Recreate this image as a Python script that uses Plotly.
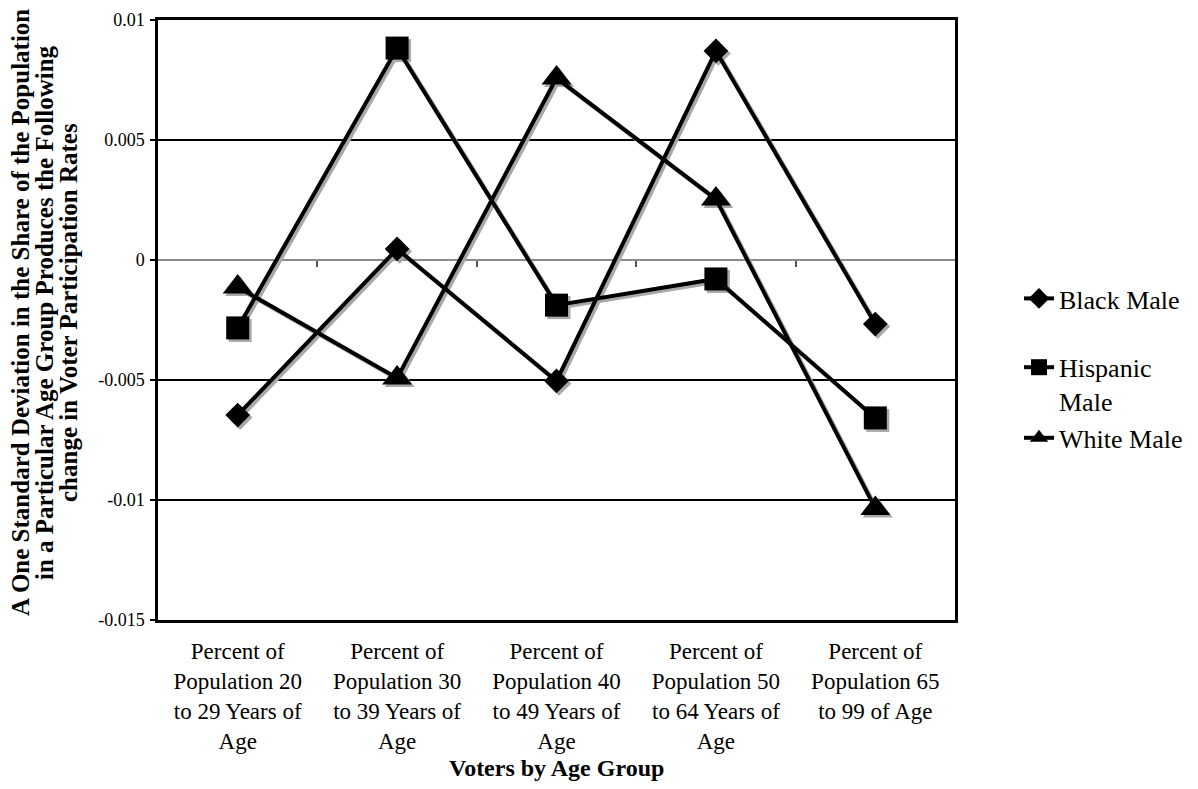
import plotly.graph_objects as go

categories = [
    "Percent of<br>Population 20<br>to 29 Years of<br>Age",
    "Percent of<br>Population 30<br>to 39 Years of<br>Age",
    "Percent of<br>Population 40<br>to 49 Years of<br>Age",
    "Percent of<br>Population 50<br>to 64 Years of<br>Age",
    "Percent of<br>Population 65<br>to 99 of Age",
]
black_male = [-0.00646, 0.00046, -0.00504, 0.00871, -0.00267]
hispanic_male = [-0.00283, 0.00883, -0.00188, -0.00079, -0.00658]
white_male = [-0.00113, -0.00492, 0.00758, 0.00254, -0.01035]

series_names = ["Black Male", "Hispanic<br>Male", "White Male"]
series_values = [black_male, hispanic_male, white_male]
symbols = ["diamond", "square", "triangle-up"]
sizes = [19, 23, 26]
legend_groups = ["g0", "g1", "g1"]

ytick_vals = [-0.015, -0.01, -0.005, 0, 0.005, 0.01]
ytick_text = ["-0.015", "-0.01", "-0.005", "0", "0.005", "0.01"]

y_title_lines = [
    "A One Standard Deviation in the Share of the Population",
    "in a Particular Age Group Produces the Following",
    "change in Voter Participation Rates",
]
x_title = "Voters by Age Group"

FONT = "Liberation Serif, Times New Roman, serif"
# page has an 8px body margin; figure is sized to fit the window inside it
W, H = 1182, 773
ML, MR, MT, MB = 150, 235, 12, 161
PW = W - ML - MR
PH = H - MT - MB
yr = [-0.015, 0.01]
xr = [-0.5, 4.5]
shadow_px = 2.5
dx = shadow_px * (xr[1] - xr[0]) / PW
dy = shadow_px * (yr[1] - yr[0]) / PH


def px_to_paper_y(py):
    return (PH - (py - MT)) / PH


def px_to_paper_x(px):
    return (px - ML) / PW


fig = go.Figure()

# shadows (base axes, shifted by a couple of pixels)
for vals, sym, sz in zip(series_values, symbols, sizes):
    fig.add_trace(go.Scatter(
        x=categories, y=vals, mode="lines+markers",
        line=dict(color="#a8a8a8", width=4),
        marker=dict(symbol=sym, size=sz, color="#a8a8a8"),
        xaxis="x", yaxis="y", showlegend=False, hoverinfo="skip",
    ))

# main series
for name, vals, sym, sz, grp in zip(series_names, series_values, symbols, sizes, legend_groups):
    fig.add_trace(go.Scatter(
        x=categories, y=vals, name=name, mode="lines+markers",
        line=dict(color="black", width=4),
        marker=dict(symbol=sym, size=sz, color="black"),
        xaxis="x2", yaxis="y2", legendgroup=grp,
    ))

# helper axis for the small tick marks on the zero line
fig.add_trace(go.Scatter(x=[], y=[], xaxis="x3", yaxis="y2", showlegend=False, hoverinfo="skip"))

annotations = []
for line_text, px in zip(y_title_lines, [12, 36, 60]):
    annotations.append(dict(
        text=f"<b>{line_text}</b>",
        xref="paper", yref="paper", x=px_to_paper_x(px), y=px_to_paper_y(305),
        xanchor="center", yanchor="middle", textangle=-90, showarrow=False,
        font=dict(family=FONT, size=25, color="black"),
    ))
annotations.append(dict(
    text=f"<b>{x_title}</b>",
    xref="paper", yref="paper", x=0.5, y=px_to_paper_y(760),
    xanchor="center", yanchor="middle", showarrow=False,
    font=dict(family=FONT, size=24, color="black"),
))

fig.update_layout(
    width=W, height=H,
    margin=dict(l=ML, r=MR, t=MT, b=MB, autoexpand=False),
    paper_bgcolor="white", plot_bgcolor="white",
    font=dict(family=FONT, color="black"),
    showlegend=True,
    legend=dict(
        xref="container", yref="container",
        x=1011 / W, y=1 - 267 / H,
        xanchor="left", yanchor="top",
        font=dict(family=FONT, size=26, color="black"),
        tracegroupgap=32, valign="top", traceorder="grouped",
        bgcolor="rgba(0,0,0,0)",
    ),
    xaxis=dict(
        type="category", categoryarray=categories, range=[xr[0] - dx, xr[1] - dx],
        domain=[0, 1], visible=False, fixedrange=True,
    ),
    yaxis=dict(
        range=[yr[0] + dy, yr[1] + dy], domain=[0, 1], visible=False, fixedrange=True,
    ),
    xaxis2=dict(
        type="category", categoryarray=categories, range=xr,
        domain=[0, 1], overlaying="x", anchor="y2",
        showline=True, linecolor="black", linewidth=2.5, mirror=True,
        showgrid=False, ticks="", zeroline=False,
        tickfont=dict(family=FONT, size=23, color="black"),
        ticklabelstandoff=9,
    ),
    yaxis2=dict(
        range=yr, domain=[0, 1], overlaying="y", anchor="x2",
        tickvals=ytick_vals, ticktext=ytick_text,
        showline=True, linecolor="black", linewidth=2.5, mirror=True,
        showgrid=True, gridcolor="black", gridwidth=2,
        zeroline=True, zerolinecolor="#8c8c8c", zerolinewidth=2,
        ticks="outside", ticklen=5, tickwidth=2, tickcolor="black",
        tickfont=dict(family=FONT, size=18, color="black"),
        ticklabelstandoff=2,
    ),
    xaxis3=dict(
        range=xr, overlaying="x", anchor="free", position=(0 - yr[0]) / (yr[1] - yr[0]),
        tickvals=[0.5, 1.5, 2.5, 3.5], ticks="outside", ticklen=6, tickwidth=1.5,
        tickcolor="#555555", showticklabels=False, showgrid=False, zeroline=False,
        showline=False, side="bottom",
    ),
    annotations=annotations,
)

fig.write_html("out.html")
